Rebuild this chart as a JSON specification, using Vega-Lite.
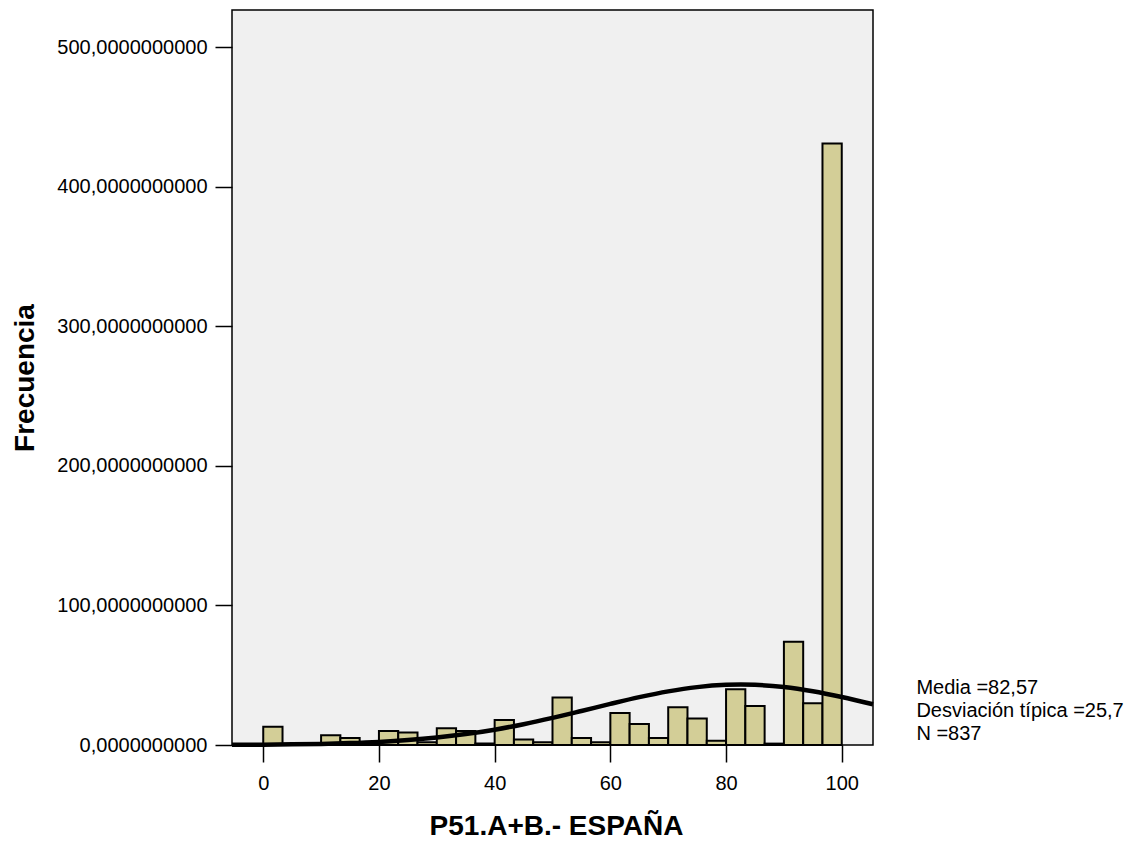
{
  "$schema": "https://vega.github.io/schema/vega-lite/v6.json",
  "width": 641,
  "height": 735,
  "autosize": {"type": "none"},
  "padding": {"left": 232, "top": 10, "right": 268, "bottom": 96},
  "background": "white",
  "config": {
    "view": {"fill": "#F0F0F0", "stroke": "#000000", "strokeWidth": 1.5},
    "font": "Liberation Sans"
  },
  "layer": [
    {
      "data": {"values": [
        {"desde": 0, "hasta": 3.333, "frecuencia": 13},
        {"desde": 3.333, "hasta": 6.667, "frecuencia": 0},
        {"desde": 6.667, "hasta": 10, "frecuencia": 1},
        {"desde": 10, "hasta": 13.333, "frecuencia": 7},
        {"desde": 13.333, "hasta": 16.667, "frecuencia": 5},
        {"desde": 16.667, "hasta": 20, "frecuencia": 1},
        {"desde": 20, "hasta": 23.333, "frecuencia": 10},
        {"desde": 23.333, "hasta": 26.667, "frecuencia": 9},
        {"desde": 26.667, "hasta": 30, "frecuencia": 2},
        {"desde": 30, "hasta": 33.333, "frecuencia": 12},
        {"desde": 33.333, "hasta": 36.667, "frecuencia": 10},
        {"desde": 36.667, "hasta": 40, "frecuencia": 1},
        {"desde": 40, "hasta": 43.333, "frecuencia": 18},
        {"desde": 43.333, "hasta": 46.667, "frecuencia": 4},
        {"desde": 46.667, "hasta": 50, "frecuencia": 2},
        {"desde": 50, "hasta": 53.333, "frecuencia": 34},
        {"desde": 53.333, "hasta": 56.667, "frecuencia": 5},
        {"desde": 56.667, "hasta": 60, "frecuencia": 2},
        {"desde": 60, "hasta": 63.333, "frecuencia": 23},
        {"desde": 63.333, "hasta": 66.667, "frecuencia": 15},
        {"desde": 66.667, "hasta": 70, "frecuencia": 5},
        {"desde": 70, "hasta": 73.333, "frecuencia": 27},
        {"desde": 73.333, "hasta": 76.667, "frecuencia": 19},
        {"desde": 76.667, "hasta": 80, "frecuencia": 3},
        {"desde": 80, "hasta": 83.333, "frecuencia": 40},
        {"desde": 83.333, "hasta": 86.667, "frecuencia": 28},
        {"desde": 86.667, "hasta": 90, "frecuencia": 1},
        {"desde": 90, "hasta": 93.333, "frecuencia": 74},
        {"desde": 93.333, "hasta": 96.667, "frecuencia": 30},
        {"desde": 96.667, "hasta": 100, "frecuencia": 431}
      ]},
      "mark": {"type": "rect", "fill": "#D3CE97", "stroke": "#000000", "strokeWidth": 2},
      "encoding": {
        "x": {
          "field": "desde", "type": "quantitative",
          "scale": {"domain": [-5.4, 105.4], "nice": false, "zero": false},
          "axis": {
            "values": [0, 20, 40, 60, 80, 100],
            "domain": false, "grid": false,
            "tickSize": 17, "tickWidth": 1.5, "tickColor": "#000000",
            "labelFontSize": 20, "labelColor": "#000000", "labelPadding": 11,
            "labelFlush": false, "labelOverlap": false,
            "title": "P51.A+B.- ESPAÑA",
            "titleFontSize": 28, "titleFontWeight": "bold", "titleColor": "#000000",
            "titleX": 324, "titleY": 89, "titleBaseline": "alphabetic", "titleAlign": "center"
          }
        },
        "x2": {"field": "hasta"},
        "y": {
          "field": "frecuencia", "type": "quantitative",
          "scale": {"domain": [0, 526.6], "nice": false},
          "axis": {
            "values": [0, 100, 200, 300, 400, 500],
            "labelExpr": "replace(format(datum.value, '.10f'), '.', ',')",
            "domain": false, "grid": false,
            "tickSize": 17, "tickWidth": 1.5, "tickColor": "#000000",
            "labelFontSize": 20, "labelColor": "#000000", "labelPadding": 8,
            "labelFlush": false, "labelOverlap": false,
            "title": "Frecuencia",
            "titleFontSize": 28, "titleFontWeight": "bold", "titleColor": "#000000",
            "titleX": -199, "titleY": 367.5, "titleAngle": -90,
            "titleBaseline": "alphabetic", "titleAlign": "center"
          }
        }
      }
    },
    {
      "data": {"values": [
        {"x": -5.4, "y": 0.124},
        {"x": 0, "y": 0.248},
        {"x": 5, "y": 0.456},
        {"x": 10, "y": 0.804},
        {"x": 15, "y": 1.366},
        {"x": 20, "y": 2.235},
        {"x": 25, "y": 3.523},
        {"x": 30, "y": 5.345},
        {"x": 35, "y": 7.808},
        {"x": 40, "y": 10.98},
        {"x": 45, "y": 14.88},
        {"x": 50, "y": 19.40},
        {"x": 55, "y": 24.36},
        {"x": 60, "y": 29.45},
        {"x": 65, "y": 34.28},
        {"x": 70, "y": 38.43},
        {"x": 75, "y": 41.47},
        {"x": 80, "y": 43.09},
        {"x": 82.57, "y": 43.31},
        {"x": 85, "y": 43.12},
        {"x": 90, "y": 41.54},
        {"x": 95, "y": 38.53},
        {"x": 100, "y": 34.41},
        {"x": 105.4, "y": 29.19}
      ]},
      "mark": {"type": "line", "color": "#000000", "strokeWidth": 4.5, "interpolate": "monotone"},
      "encoding": {
        "x": {"field": "x", "type": "quantitative"},
        "y": {"field": "y", "type": "quantitative"}
      }
    },
    {
      "data": {"values": [{"media": "82,57", "desviacion": "25,7", "n": 837}]},
      "mark": {
        "type": "text",
        "text": ["Media =82,57", "Desviación típica =25,7", "N =837"],
        "align": "left", "baseline": "alphabetic",
        "fontSize": 20, "lineHeight": 23, "color": "#000000",
        "font": "Liberation Sans"
      },
      "encoding": {
        "x": {"datum": 112.9, "type": "quantitative"},
        "y": {"datum": 36.5, "type": "quantitative"}
      }
    }
  ]
}
